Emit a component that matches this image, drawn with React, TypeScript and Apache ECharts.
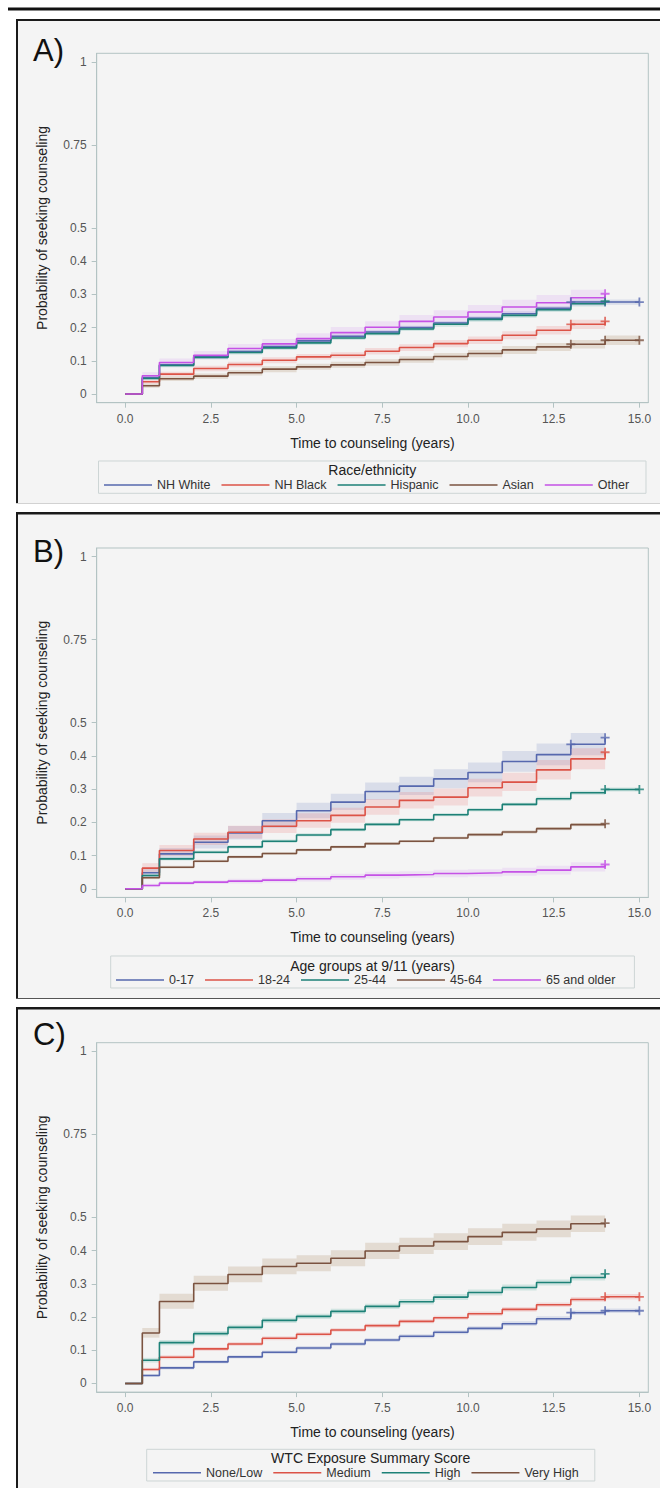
import React, { useEffect, useRef } from 'react';
import * as echarts from 'echarts';

const FONT = '"Liberation Sans", Arial, Helvetica, sans-serif';

// ---------- shared axis data ----------
const TIMES = [0, 0.5, 1, 2, 3, 4, 5, 6, 7, 8, 9, 10, 11, 12, 13, 14];
const X_TICKS = [0, 2.5, 5, 7.5, 10, 12.5, 15];
const Y_TICKS = [0, 0.1, 0.2, 0.3, 0.4, 0.5, 0.75, 1];
const X_TITLE = 'Time to counseling (years)';
const Y_TITLE = 'Probability of seeking counseling';

// ---------- Panel A: Race/ethnicity ----------
const A_TITLE = 'Race/ethnicity';
const A_NAMES = ['NH White', 'NH Black', 'Hispanic', 'Asian', 'Other'];
const A_WHITE_EST = [0, 0.050, 0.088, 0.112, 0.128, 0.143, 0.160, 0.174, 0.187, 0.200, 0.214, 0.228, 0.242, 0.258, 0.277, 0.277];
const A_WHITE_LO = [0, 0.046, 0.083, 0.107, 0.123, 0.138, 0.154, 0.168, 0.181, 0.194, 0.208, 0.222, 0.235, 0.251, 0.269, 0.269];
const A_WHITE_HI = [0, 0.054, 0.093, 0.117, 0.133, 0.148, 0.166, 0.180, 0.193, 0.206, 0.220, 0.234, 0.249, 0.265, 0.285, 0.285];
const A_WHITE_CENS = [[13, 0.277], [14, 0.277], [15, 0.277]];
const A_BLACK_EST = [0, 0.037, 0.060, 0.077, 0.089, 0.102, 0.112, 0.117, 0.129, 0.140, 0.152, 0.162, 0.177, 0.192, 0.210, 0.219];
const A_BLACK_LO = [0, 0.031, 0.053, 0.069, 0.081, 0.093, 0.103, 0.108, 0.119, 0.130, 0.141, 0.151, 0.165, 0.179, 0.196, 0.204];
const A_BLACK_HI = [0, 0.043, 0.067, 0.085, 0.097, 0.111, 0.121, 0.126, 0.139, 0.150, 0.163, 0.173, 0.189, 0.205, 0.224, 0.234];
const A_BLACK_CENS = [[13, 0.21], [14, 0.219]];
const A_HISP_EST = [0, 0.047, 0.086, 0.110, 0.125, 0.139, 0.154, 0.169, 0.182, 0.196, 0.210, 0.225, 0.237, 0.254, 0.272, 0.280];
const A_HISP_LO = [0, 0.043, 0.081, 0.105, 0.119, 0.133, 0.148, 0.163, 0.176, 0.190, 0.203, 0.218, 0.230, 0.247, 0.264, 0.272];
const A_HISP_HI = [0, 0.051, 0.091, 0.115, 0.131, 0.145, 0.160, 0.175, 0.188, 0.202, 0.217, 0.232, 0.244, 0.261, 0.280, 0.288];
const A_HISP_CENS = [[14, 0.28]];
const A_ASIAN_EST = [0, 0.025, 0.046, 0.054, 0.064, 0.075, 0.082, 0.088, 0.095, 0.104, 0.113, 0.122, 0.133, 0.142, 0.150, 0.162];
const A_ASIAN_LO = [0, 0.019, 0.039, 0.046, 0.056, 0.066, 0.073, 0.079, 0.085, 0.094, 0.102, 0.111, 0.121, 0.130, 0.137, 0.148];
const A_ASIAN_HI = [0, 0.031, 0.053, 0.062, 0.072, 0.084, 0.091, 0.097, 0.105, 0.114, 0.124, 0.133, 0.145, 0.154, 0.163, 0.176];
const A_ASIAN_CENS = [[13, 0.15], [14, 0.162], [15, 0.162]];
const A_OTHER_EST = [0, 0.055, 0.095, 0.117, 0.137, 0.151, 0.167, 0.185, 0.201, 0.219, 0.232, 0.247, 0.262, 0.275, 0.290, 0.302];
const A_OTHER_LO = [0, 0.045, 0.084, 0.105, 0.124, 0.137, 0.152, 0.169, 0.184, 0.201, 0.213, 0.227, 0.241, 0.253, 0.267, 0.278];
const A_OTHER_HI = [0, 0.066, 0.107, 0.130, 0.151, 0.166, 0.183, 0.202, 0.219, 0.238, 0.252, 0.268, 0.284, 0.298, 0.314, 0.327];
const A_OTHER_CENS = [[14, 0.302]];
const A_ENDS = [15, 14, 14, 15, 14];

// ---------- Panel B: Age groups ----------
const B_TITLE = 'Age groups at 9/11 (years)';
const B_NAMES = ['0-17', '18-24', '25-44', '45-64', '65 and older'];
const B_017_EST = [0, 0.048, 0.105, 0.140, 0.168, 0.205, 0.235, 0.261, 0.293, 0.309, 0.331, 0.350, 0.383, 0.404, 0.435, 0.455];
const B_017_LO = [0, 0.035, 0.088, 0.121, 0.148, 0.183, 0.212, 0.237, 0.267, 0.282, 0.303, 0.321, 0.352, 0.372, 0.402, 0.420];
const B_017_HI = [0, 0.063, 0.123, 0.160, 0.189, 0.228, 0.259, 0.286, 0.320, 0.337, 0.360, 0.380, 0.415, 0.437, 0.469, 0.490];
const B_017_CENS = [[13, 0.435], [14, 0.455]];
const B_1824_EST = [0, 0.062, 0.115, 0.150, 0.170, 0.188, 0.205, 0.221, 0.246, 0.266, 0.276, 0.304, 0.321, 0.358, 0.391, 0.411];
const B_1824_LO = [0, 0.048, 0.099, 0.132, 0.151, 0.168, 0.184, 0.199, 0.223, 0.242, 0.251, 0.278, 0.294, 0.329, 0.360, 0.379];
const B_1824_HI = [0, 0.077, 0.132, 0.169, 0.190, 0.209, 0.227, 0.244, 0.270, 0.291, 0.302, 0.331, 0.349, 0.388, 0.423, 0.444];
const B_1824_CENS = [[14, 0.411]];
const B_2544_EST = [0, 0.040, 0.090, 0.110, 0.126, 0.143, 0.162, 0.178, 0.194, 0.208, 0.223, 0.238, 0.254, 0.271, 0.289, 0.299];
const B_2544_LO = [0, 0.036, 0.085, 0.105, 0.121, 0.138, 0.157, 0.173, 0.189, 0.203, 0.218, 0.233, 0.249, 0.265, 0.283, 0.293];
const B_2544_HI = [0, 0.044, 0.095, 0.115, 0.131, 0.148, 0.167, 0.183, 0.199, 0.213, 0.228, 0.243, 0.259, 0.277, 0.295, 0.305];
const B_2544_CENS = [[14, 0.299], [15, 0.299]];
const B_4564_EST = [0, 0.033, 0.065, 0.083, 0.096, 0.106, 0.117, 0.126, 0.136, 0.143, 0.153, 0.163, 0.171, 0.181, 0.193, 0.196];
const B_4564_LO = [0, 0.029, 0.061, 0.079, 0.092, 0.102, 0.113, 0.122, 0.132, 0.139, 0.149, 0.158, 0.166, 0.176, 0.188, 0.190];
const B_4564_HI = [0, 0.037, 0.069, 0.087, 0.100, 0.110, 0.121, 0.130, 0.140, 0.147, 0.157, 0.168, 0.176, 0.186, 0.198, 0.202];
const B_4564_CENS = [[14, 0.196]];
const B_65_EST = [0, 0.010, 0.017, 0.020, 0.023, 0.026, 0.030, 0.036, 0.041, 0.043, 0.046, 0.048, 0.051, 0.056, 0.066, 0.073];
const B_65_LO = [0, 0.005, 0.011, 0.014, 0.016, 0.019, 0.022, 0.027, 0.031, 0.033, 0.035, 0.037, 0.039, 0.043, 0.052, 0.058];
const B_65_HI = [0, 0.015, 0.023, 0.026, 0.030, 0.033, 0.038, 0.045, 0.051, 0.053, 0.057, 0.059, 0.063, 0.069, 0.080, 0.088];
const B_65_CENS = [[14, 0.073]];
const B_ENDS = [14, 14, 15, 14, 14];

// ---------- Panel C: WTC exposure ----------
const C_TITLE = 'WTC Exposure Summary Score';
const C_NAMES = ['None/Low', 'Medium', 'High', 'Very High'];
const C_LOW_EST = [0, 0.024, 0.047, 0.065, 0.080, 0.094, 0.107, 0.119, 0.131, 0.142, 0.154, 0.166, 0.180, 0.195, 0.213, 0.219];
const C_LOW_LO = [0, 0.020, 0.042, 0.060, 0.075, 0.089, 0.101, 0.113, 0.125, 0.136, 0.148, 0.160, 0.173, 0.188, 0.206, 0.212];
const C_LOW_HI = [0, 0.028, 0.052, 0.070, 0.085, 0.099, 0.113, 0.125, 0.137, 0.148, 0.160, 0.172, 0.187, 0.202, 0.220, 0.226];
const C_LOW_CENS = [[13, 0.213], [14, 0.219], [15, 0.219]];
const C_MED_EST = [0, 0.042, 0.079, 0.104, 0.119, 0.136, 0.148, 0.161, 0.174, 0.187, 0.198, 0.210, 0.223, 0.237, 0.253, 0.261];
const C_MED_LO = [0, 0.037, 0.073, 0.098, 0.113, 0.130, 0.142, 0.155, 0.168, 0.181, 0.192, 0.203, 0.216, 0.230, 0.246, 0.253];
const C_MED_HI = [0, 0.047, 0.085, 0.110, 0.125, 0.142, 0.154, 0.167, 0.180, 0.193, 0.204, 0.217, 0.230, 0.244, 0.260, 0.269];
const C_MED_CENS = [[14, 0.261], [15, 0.261]];
const C_HIGH_EST = [0, 0.070, 0.123, 0.150, 0.169, 0.190, 0.202, 0.217, 0.232, 0.246, 0.260, 0.274, 0.289, 0.304, 0.319, 0.330];
const C_HIGH_LO = [0, 0.063, 0.115, 0.142, 0.161, 0.182, 0.194, 0.209, 0.224, 0.238, 0.251, 0.265, 0.280, 0.295, 0.310, 0.320];
const C_HIGH_HI = [0, 0.077, 0.131, 0.158, 0.177, 0.198, 0.210, 0.225, 0.240, 0.254, 0.269, 0.283, 0.298, 0.313, 0.328, 0.340];
const C_HIGH_CENS = [[14, 0.33]];
const C_VHIGH_EST = [0, 0.152, 0.247, 0.301, 0.328, 0.352, 0.362, 0.377, 0.399, 0.414, 0.427, 0.442, 0.455, 0.465, 0.481, 0.483];
const C_VHIGH_LO = [0, 0.138, 0.225, 0.279, 0.305, 0.329, 0.338, 0.353, 0.375, 0.390, 0.402, 0.417, 0.430, 0.440, 0.456, 0.458];
const C_VHIGH_HI = [0, 0.167, 0.270, 0.324, 0.352, 0.376, 0.386, 0.401, 0.424, 0.439, 0.452, 0.467, 0.481, 0.491, 0.506, 0.508];
const C_VHIGH_CENS = [[14, 0.483]];
const C_ENDS = [15, 15, 14, 14];

// ---------- styling ----------
const LINE_COLORS = ['#5668ae', '#dc5347', '#1d8177', '#7b5340', '#c552e6'];
const BAND_COLORS = [
  'rgba(110,130,190,0.20)',
  'rgba(235,100,100,0.18)',
  'rgba(80,175,160,0.22)',
  'rgba(170,130,90,0.22)',
  'rgba(200,120,240,0.15)',
];
const AXIS_COLOR = '#b3c3c3';
const X_MIN = -0.83;
const X_MAX = 15.26;
const Y_MIN = -0.026;
const Y_MAX = 1.026;

const PANELS = [
  {
    letter: 'A)', letterY: 50, gridTop: 53.3, title: A_TITLE, names: A_NAMES, ends: A_ENDS,
    est: [A_WHITE_EST, A_BLACK_EST, A_HISP_EST, A_ASIAN_EST, A_OTHER_EST],
    lo: [A_WHITE_LO, A_BLACK_LO, A_HISP_LO, A_ASIAN_LO, A_OTHER_LO],
    hi: [A_WHITE_HI, A_BLACK_HI, A_HISP_HI, A_ASIAN_HI, A_OTHER_HI],
    cens: [A_WHITE_CENS, A_BLACK_CENS, A_HISP_CENS, A_ASIAN_CENS, A_OTHER_CENS],
    legendLeft: 104, legendRow: 485, box: [98.5, 461, 547.5, 32.3], titleX: 372.3, titleY: 470,
  },
  {
    letter: 'B)', letterY: 551, gridTop: 548, title: B_TITLE, names: B_NAMES, ends: B_ENDS,
    est: [B_017_EST, B_1824_EST, B_2544_EST, B_4564_EST, B_65_EST],
    lo: [B_017_LO, B_1824_LO, B_2544_LO, B_4564_LO, B_65_LO],
    hi: [B_017_HI, B_1824_HI, B_2544_HI, B_4564_HI, B_65_HI],
    cens: [B_017_CENS, B_1824_CENS, B_2544_CENS, B_4564_CENS, B_65_CENS],
    legendLeft: 116, legendRow: 980, box: [110.7, 956, 523.7, 32], titleX: 372.5, titleY: 965.7,
  },
  {
    letter: 'C)', letterY: 1034, gridTop: 1042.7, title: C_TITLE, names: C_NAMES, ends: C_ENDS,
    est: [C_LOW_EST, C_MED_EST, C_HIGH_EST, C_VHIGH_EST],
    lo: [C_LOW_LO, C_MED_LO, C_HIGH_LO, C_VHIGH_LO],
    hi: [C_LOW_HI, C_MED_HI, C_HIGH_HI, C_VHIGH_HI],
    cens: [C_LOW_CENS, C_MED_CENS, C_HIGH_CENS, C_VHIGH_CENS],
    legendLeft: 153, legendRow: 1472.7, box: [146.7, 1449.3, 448.1, 31.7], titleX: 370.7, titleY: 1458.3,
  },
];

const PLUS = 'path://M4,0H6V4H10V6H6V10H4V6H0V4H4Z';

function buildOption() {
  const grid: any[] = [];
  const xAxis: any[] = [];
  const yAxis: any[] = [];
  const series: any[] = [];
  const legend: any[] = [];
  const graphic: any[] = [];

  // page frame
  graphic.push({ type: 'rect', z: -10, shape: { x: 8, y: 7.5, width: 652, height: 3 }, style: { fill: '#111' } });
  const panelBoxes = [
    { top: 19, bottom: 503, bottomColor: '#d2d2d2', topW: 2 },
    { top: 512, bottom: 998, bottomColor: '#555', topW: 2.5 },
    { top: 1007, bottom: 1495, bottomColor: '#555', topW: 2.5 },
  ];
  panelBoxes.forEach((b) => {
    graphic.push({ type: 'rect', z: -10, shape: { x: 16, y: b.top, width: 660, height: b.bottom - b.top }, style: { fill: '#f4f4f4' } });
    graphic.push({ type: 'rect', z: -9, shape: { x: 16, y: b.top, width: 660, height: b.topW }, style: { fill: '#1a1a1a' } });
    graphic.push({ type: 'rect', z: -9, shape: { x: 16, y: b.top, width: 2, height: b.bottom - b.top }, style: { fill: '#1a1a1a' } });
    graphic.push({ type: 'rect', z: -9, shape: { x: 16, y: b.bottom, width: 660, height: 1 }, style: { fill: b.bottomColor } });
  });

  PANELS.forEach((p, pi) => {
    grid.push({
      left: 96.7, top: p.gridTop, width: 551.6, height: 349.4,
      show: true, borderColor: AXIS_COLOR, borderWidth: 1, backgroundColor: 'transparent',
    });
    xAxis.push({
      gridIndex: pi, type: 'value', min: X_MIN, max: X_MAX,
      axisLine: { show: true, onZero: false, lineStyle: { color: AXIS_COLOR, width: 1 } },
      axisTick: { show: true, customValues: X_TICKS, length: 5, lineStyle: { color: AXIS_COLOR } },
      axisLabel: {
        customValues: X_TICKS, formatter: (v: number) => v.toFixed(1),
        color: '#555', fontSize: 12, margin: 10, fontFamily: FONT,
      },
      splitLine: { show: false },
      name: X_TITLE, nameLocation: 'middle', nameGap: 33,
      nameTextStyle: { fontSize: 14, color: '#222', fontFamily: FONT },
    });
    yAxis.push({
      gridIndex: pi, type: 'value', min: Y_MIN, max: Y_MAX,
      axisLine: { show: true, onZero: false, lineStyle: { color: AXIS_COLOR, width: 1 } },
      axisTick: { show: true, customValues: Y_TICKS, length: 5, lineStyle: { color: AXIS_COLOR } },
      axisLabel: {
        customValues: Y_TICKS, formatter: (v: number) => String(v),
        color: '#555', fontSize: 12, margin: 10, fontFamily: FONT,
      },
      splitLine: { show: false },
      name: Y_TITLE, nameLocation: 'middle', nameGap: 48, nameRotate: 90,
      nameTextStyle: { fontSize: 14, color: '#222', fontFamily: FONT },
    });

    // bands
    p.names.forEach((name, gi) => {
      const lo = p.lo[gi];
      const hi = p.hi[gi];
      const end = p.ends[gi];
      const data: number[][] = [];
      for (let i = 1; i < TIMES.length; i++) {
        const t1 = i < TIMES.length - 1 ? TIMES[i + 1] : (end === 15 ? 15 : null);
        if (t1 === null) continue;
        data.push([TIMES[i], t1, lo[i], hi[i]]);
      }
      const fill = BAND_COLORS[gi];
      series.push({
        type: 'custom', name: name + ' CI', xAxisIndex: pi, yAxisIndex: pi, z: 1, silent: true,
        encode: { x: [0, 1], y: [2, 3] },
        data,
        renderItem: (params: any, api: any) => {
          const a = api.coord([api.value(0), api.value(3)]);
          const b = api.coord([api.value(1), api.value(2)]);
          return {
            type: 'rect',
            shape: { x: a[0], y: a[1], width: b[0] - a[0], height: b[1] - a[1] },
            style: { fill },
          };
        },
      });
    });

    // lines
    p.names.forEach((name, gi) => {
      const est = p.est[gi];
      const data = est.map((v, i) => [TIMES[i], v]);
      if (p.ends[gi] === 15) data.push([15, est[est.length - 1]]);
      series.push({
        type: 'line', name, xAxisIndex: pi, yAxisIndex: pi, z: 3, step: 'end',
        symbol: 'none', showSymbol: false, silent: true,
        lineStyle: { color: LINE_COLORS[gi], width: 1.6 },
        itemStyle: { color: LINE_COLORS[gi] },
        data,
      });
    });

    // censor marks
    p.names.forEach((name, gi) => {
      series.push({
        type: 'scatter', name: name + ' censored', xAxisIndex: pi, yAxisIndex: pi, z: 4, silent: true,
        symbol: PLUS, symbolSize: 9,
        itemStyle: { color: LINE_COLORS[gi] },
        data: p.cens[gi],
      });
    });

    legend.push({
      data: p.names, left: p.legendLeft, top: p.legendRow - 6.5, orient: 'horizontal',
      icon: 'rect', itemWidth: 48, itemHeight: 1.5, itemGap: 11, padding: 0,
      selectedMode: false,
      textStyle: { fontSize: 12.5, color: '#333', fontFamily: FONT },
    });

    const [bx, by, bw, bh] = p.box;
    graphic.push({
      type: 'rect', z: -5, shape: { x: bx, y: by, width: bw, height: bh },
      style: { fill: 'transparent', stroke: '#cdd5d5', lineWidth: 1 },
    });
    graphic.push({
      type: 'text', z: 5, x: p.titleX, y: p.titleY,
      style: { text: p.title, fontSize: 14, fill: '#222', fontFamily: FONT, textAlign: 'center', textVerticalAlign: 'middle' },
    });
    graphic.push({
      type: 'text', z: 5, x: 33, y: p.letterY,
      style: { text: p.letter, fontSize: 31, fill: '#111', fontFamily: FONT, textAlign: 'left', textVerticalAlign: 'middle' },
    });
  });

  return {
    animation: false,
    backgroundColor: '#ffffff',
    textStyle: { fontFamily: FONT },
    grid, xAxis, yAxis, series, legend, graphic,
  };
}

export default function App() {
  const ref = useRef<HTMLDivElement>(null);
  useEffect(() => {
    if (!ref.current) return;
    const chart = echarts.init(ref.current, null, { renderer: 'svg' });
    chart.setOption(buildOption() as any);
    return () => chart.dispose();
  }, []);
  return <div ref={ref} style={{ position: 'absolute', left: 0, top: 0, width: 660, height: 1488 }} />;
}
